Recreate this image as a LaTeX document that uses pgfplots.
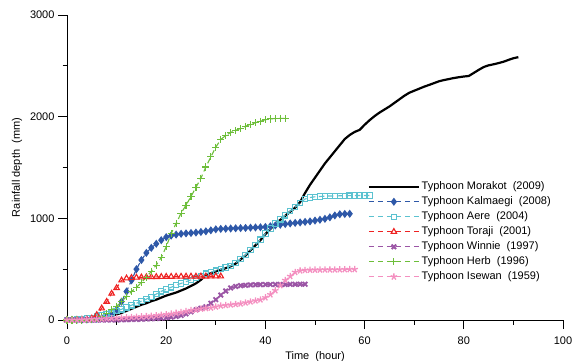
\documentclass[border=0pt]{standalone}
\usepackage{pgfplots}
\pgfplotsset{compat=1.18}
\usepackage{fontspec}
\setmainfont{Liberation Sans}
\definecolor{cKal}{RGB}{46,88,168}
\definecolor{cAere}{RGB}{91,194,208}
\definecolor{cTor}{RGB}{238,34,34}
\definecolor{cWin}{RGB}{155,85,165}
\definecolor{cHerb}{RGB}{109,190,58}
\definecolor{cIse}{RGB}{244,143,192}
\begin{document}
\begin{tikzpicture}
\path[use as bounding box] (-67bp,-41bp) rectangle (515bp,320bp);
\begin{axis}[
  at={(0,0)}, anchor=south west,
  scale only axis, width=496bp, height=305bp,
  xmin=0, xmax=100, ymin=0, ymax=3000,
  axis x line=bottom, axis y line=left,
  axis line style={-, line width=0.8bp},
  xtick={0,20,...,100}, ytick={0,1000,2000,3000},
  minor x tick num=1, minor y tick num=1,
  tick align=outside,
  major tick length=9bp, minor tick length=4.5bp,
  tick style={line width=0.8bp, black},
  /pgf/number format/assume math mode=true,
  /pgf/number format/1000 sep={},
  tick label style={font=\fontsize{11bp}{13bp}\selectfont},
  xticklabel shift=4bp,
  label style={font=\fontsize{11bp}{13bp}\selectfont},
  xlabel={Time~ (hour)}, ylabel={Rainfall depth~ (mm)},
  x label style={at={(axis description cs:0.5,-0.1197)}, anchor=center},
  y label style={at={(axis description cs:-0.1008,0.5)}, anchor=center, rotate=0},
  legend style={at={(axis description cs:0.606,0.462)}, anchor=north west, draw=none, fill=none,
    inner sep=0pt, row sep=0bp,
    font=\fontsize{11bp}{13bp}\selectfont,
    nodes={inner sep=1.75bp, text height=8.5bp, text depth=3bp}},
  legend cell align=left,
  legend image code/.code={\draw[mark repeat=2,mark phase=2,#1] plot coordinates {(0bp,0bp) (25bp,0bp) (50bp,0bp)};},
  every axis plot/.append style={line width=1.1bp},
  ddash/.style={dash pattern=on 5.5bp off 3.5bp},
]
\addplot[black, line width=2.2bp, no marks] coordinates {
(0,0)(1,0)(2,1)(3,2)(4,4)(5,8)(6,12)(7,18)(8,28)(9,40)(10,55)(11,70)(12,90)(13,110)(14,130)(15,150)(16,165)(17,185)(18,200)(19,220)(20,240)(21,255)(22,270)(23,290)(24,310)(25,335)(26,360)(27,395)(28,440)(29,460)(30,478)(31,495)(32,510)(33,528)(34,555)(35,595)(36,635)(37,685)(38,735)(39,785)(40,845)(41,895)(42,945)(43,985)(44,1025)(45,1065)(46,1105)(47,1160)(48,1250)(49,1330)(50,1400)(51,1470)(52,1540)(53,1600)(54,1660)(55,1720)(56,1780)(57,1820)(58,1850)(59,1870)(60,1920)(61,1965)(62,2005)(63,2040)(64,2070)(65,2100)(66,2135)(67,2170)(68,2205)(69,2235)(70,2255)(71,2275)(72,2295)(73,2312)(74,2330)(75,2348)(76,2360)(77,2370)(78,2380)(79,2388)(80,2395)(81,2400)(82,2430)(83,2460)(84,2488)(85,2505)(86,2515)(87,2527)(88,2540)(89,2558)(90,2575)(91,2585)};
\addlegendentry{Typhoon Morakot~ (2009)}
\addplot[cKal, ddash, mark=diamond*, mark size=3.2bp, mark options={solid, fill=cKal}] coordinates {
(0,0)(1,0)(2,2)(3,3)(4,5)(5,8)(6,12)(7,18)(8,30)(9,50)(10,100)(11,180)(12,280)(13,390)(14,500)(15,590)(16,660)(17,710)(18,750)(19,785)(20,815)(21,830)(22,840)(23,848)(24,852)(25,856)(26,860)(27,866)(28,872)(29,882)(30,892)(31,896)(32,898)(33,900)(34,902)(35,904)(36,906)(37,908)(38,910)(39,912)(40,915)(41,922)(42,930)(43,937)(44,944)(45,950)(46,955)(47,960)(48,965)(49,970)(50,978)(51,986)(52,995)(53,1010)(54,1028)(55,1040)(56,1043)(57,1045)};
\addlegendentry{Typhoon Kalmaegi~ (2008)}
\addplot[cAere, ddash, mark=square, mark size=2.7bp, mark options={solid, line width=1.1bp}] coordinates {
(0,0)(1,2)(2,4)(3,8)(4,14)(5,22)(6,32)(7,45)(8,58)(9,72)(10,88)(11,105)(12,125)(13,145)(14,165)(15,185)(16,205)(17,228)(18,255)(19,282)(20,302)(21,322)(22,342)(23,360)(24,377)(25,395)(26,415)(27,435)(28,455)(29,470)(30,485)(31,500)(32,515)(33,532)(34,560)(35,600)(36,640)(37,690)(38,740)(39,790)(40,850)(41,900)(42,950)(43,990)(44,1030)(45,1070)(46,1110)(47,1150)(48,1190)(49,1205)(50,1212)(51,1215)(52,1218)(53,1220)(54,1220)(55,1222)(56,1222)(57,1223)(58,1224)(59,1225)(60,1225)(61,1225)};
\addlegendentry{Typhoon Aere~ (2004)}
\addplot[cTor, ddash, mark=triangle, mark size=3.2bp, mark options={solid, line width=1.1bp}] coordinates {
(0,0)(1,0)(2,0)(3,2)(4,5)(5,15)(6,50)(7,115)(8,180)(9,260)(10,315)(11,390)(12,410)(13,415)(14,418)(15,420)(16,422)(17,423)(18,424)(19,425)(20,426)(21,426)(22,427)(23,427)(24,428)(25,428)(26,428)(27,429)(28,429)(29,430)(30,430)(31,430)};
\addlegendentry{Typhoon Toraji~ (2001)}
\addplot[cWin, ddash, mark=x, mark size=3.2bp, mark options={solid, line width=1.9bp}] coordinates {
(0,0)(1,0)(2,0)(3,0)(4,0)(5,0)(6,0)(7,0)(8,0)(9,0)(10,0)(11,2)(12,3)(13,5)(14,6)(15,8)(16,10)(17,12)(18,15)(19,18)(20,22)(21,28)(22,35)(23,45)(24,60)(25,80)(26,100)(27,115)(28,130)(29,165)(30,200)(31,245)(32,285)(33,315)(34,330)(35,338)(36,342)(37,345)(38,347)(39,348)(40,349)(41,349)(42,350)(43,350)(44,350)(45,351)(46,351)(47,352)(48,352)};
\addlegendentry{Typhoon Winnie~ (1997)}
\addplot[cHerb, ddash, mark=+, mark size=3.6bp, mark options={solid, line width=1.1bp}] coordinates {
(0,0)(1,0)(2,0)(3,0)(4,2)(5,5)(6,12)(7,30)(8,60)(9,100)(10,135)(11,180)(12,230)(13,280)(14,320)(15,370)(16,420)(17,480)(18,540)(19,615)(20,720)(21,850)(22,950)(23,1050)(24,1130)(25,1215)(26,1305)(27,1395)(28,1505)(29,1605)(30,1700)(31,1775)(32,1815)(33,1845)(34,1865)(35,1885)(36,1905)(37,1925)(38,1940)(39,1955)(40,1970)(41,1978)(42,1982)(43,1983)(44,1983)};
\addlegendentry{Typhoon Herb~ (1996)}
\addplot[cIse, ddash, mark=star, mark size=3.4bp, mark options={solid, line width=1.3bp}] coordinates {
(0,0)(1,0)(2,0)(3,2)(4,5)(5,8)(6,10)(7,12)(8,15)(9,18)(10,20)(11,22)(12,25)(13,28)(14,30)(15,33)(16,36)(17,40)(18,45)(19,50)(20,55)(21,60)(22,68)(23,75)(24,85)(25,95)(26,100)(27,110)(28,115)(29,120)(30,130)(31,140)(32,145)(33,150)(34,155)(35,160)(36,170)(37,180)(38,190)(39,200)(40,220)(41,250)(42,290)(43,340)(44,390)(45,430)(46,470)(47,485)(48,490)(49,492)(50,493)(51,494)(52,495)(53,495)(54,495)(55,496)(56,497)(57,498)(58,498)};
\addlegendentry{Typhoon Isewan~ (1959)}
\end{axis}
\end{tikzpicture}
\end{document}
